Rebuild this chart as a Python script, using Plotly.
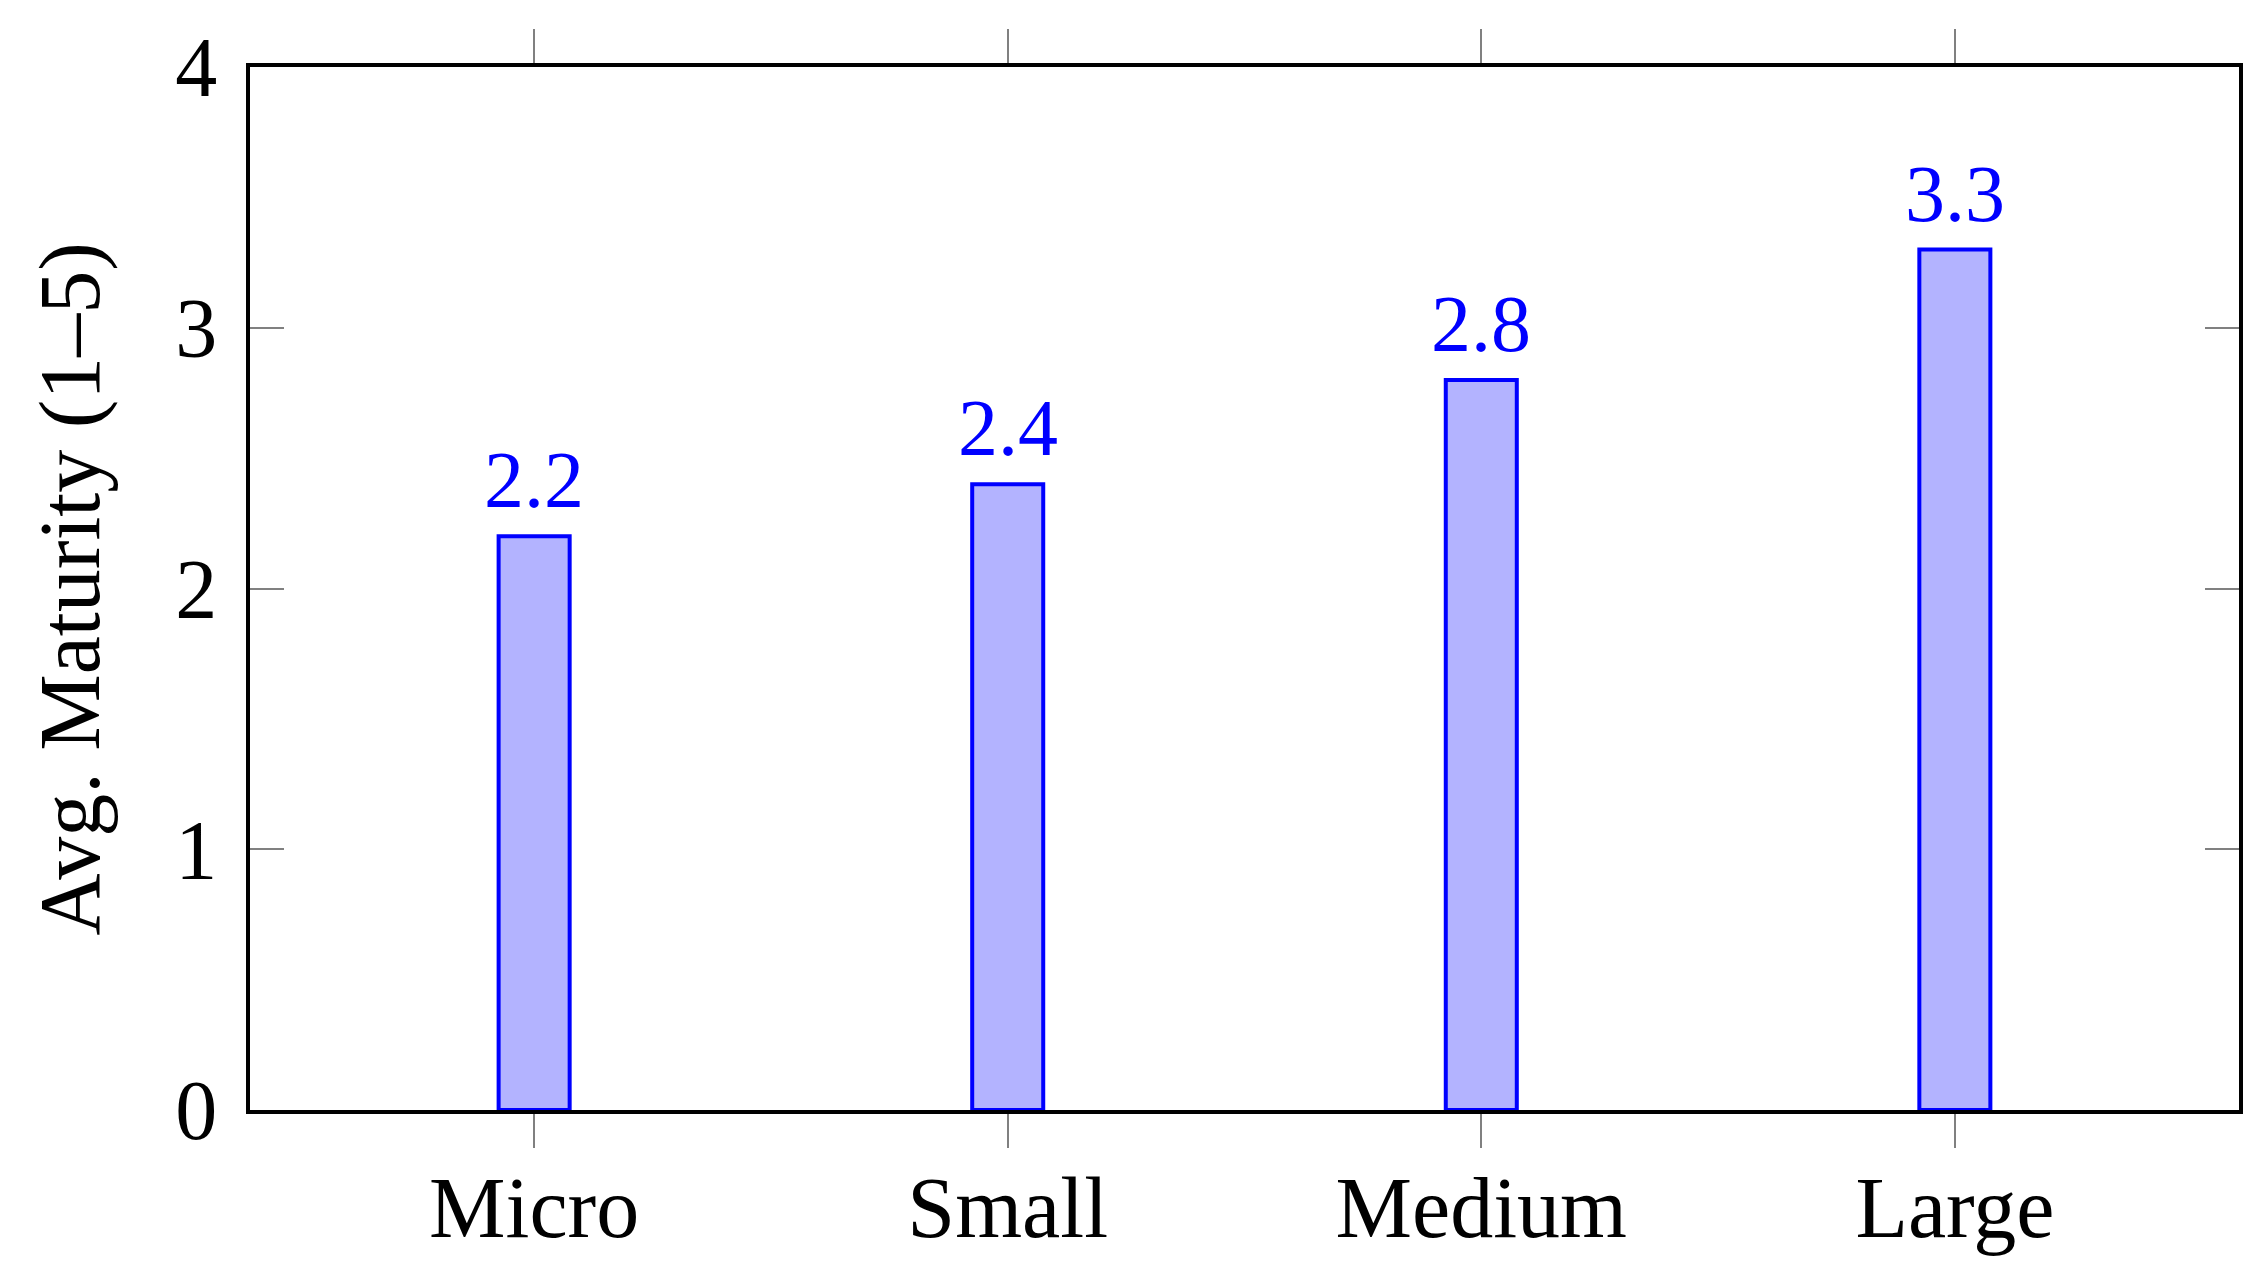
import plotly.graph_objects as go

categories = ["Micro", "Small", "Medium", "Large"]
maturity = [2.2, 2.4, 2.8, 3.3]
value_labels = ["2.2", "2.4", "2.8", "3.3"]
y_ticks = [0, 1, 2, 3, 4]
y_title = "Avg. Maturity (1–5)"

FONT = "Liberation Serif"

fig = go.Figure()
fig.add_trace(go.Bar(
    x=categories,
    y=maturity,
    width=0.15,
    marker=dict(color="#b3b3ff", line=dict(color="#0000ff", width=4)),
    hoverinfo="skip",
))

for c, v, t in zip(categories, maturity, value_labels):
    fig.add_annotation(
        x=c, y=v, text=t, showarrow=False,
        xanchor="center", yanchor="bottom", yshift=10,
        font=dict(family=FONT, size=80, color="#0000ff"),
    )

# y-axis title as rotated annotation
fig.add_annotation(
    xref="paper", yref="paper", x=-0.0905, y=0.5,
    text=y_title, textangle=-90, showarrow=False,
    xanchor="center", yanchor="middle",
    font=dict(family=FONT, size=86, color="black"),
)

fig.update_layout(
    width=2248,
    height=1262,
    margin=dict(l=242, r=17, t=59, b=160),
    paper_bgcolor="white",
    plot_bgcolor="white",
    showlegend=False,
    font=dict(family=FONT, size=84, color="black"),
)

fig.update_xaxes(
    range=[-0.6, 3.6],
    showgrid=False,
    zeroline=False,
    showline=True,
    linecolor="black",
    linewidth=4,
    mirror="ticks",
    ticks="outside",
    ticklen=34,
    tickwidth=2,
    tickcolor="#808080",
    tickfont=dict(family=FONT, size=86, color="black"),
    ticklabelstandoff=-14,
)

fig.update_yaxes(
    range=[0, 4],
    tickvals=y_ticks,
    ticktext=[str(v) for v in y_ticks],
    showgrid=False,
    zeroline=False,
    showline=True,
    linecolor="black",
    linewidth=4,
    mirror="ticks",
    ticks="inside",
    ticklen=34,
    tickwidth=2,
    tickcolor="#808080",
    tickfont=dict(family=FONT, size=84, color="black"),
    ticklabelstandoff=12,
)

fig.write_html("out.html")
